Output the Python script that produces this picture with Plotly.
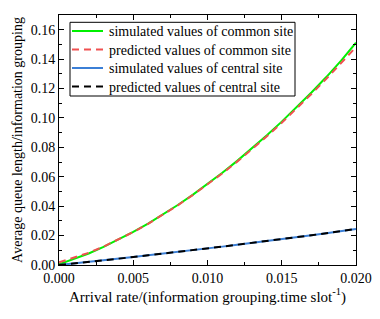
import plotly.graph_objects as go

x = [0.000, 0.001, 0.002, 0.003, 0.004, 0.005, 0.006, 0.007, 0.008, 0.009, 0.010,
     0.011, 0.012, 0.013, 0.014, 0.015, 0.016, 0.017, 0.018, 0.019, 0.020]
sim_common = [0.0005, 0.0040, 0.0078, 0.0123, 0.0172, 0.0225, 0.0282, 0.0343, 0.0408, 0.0477, 0.0550,
              0.0627, 0.0708, 0.0793, 0.0882, 0.0975, 0.1072, 0.1173, 0.1278, 0.1390, 0.1512]
pred_common = [0.0018, 0.0048, 0.0083, 0.0125, 0.0172, 0.0224, 0.0280, 0.0341, 0.0406, 0.0475, 0.0547,
               0.0623, 0.0703, 0.0787, 0.0875, 0.0967, 0.1063, 0.1163, 0.1266, 0.1372, 0.1482]
sim_central = [0.0000, 0.0010, 0.0021, 0.0032, 0.0043, 0.0054, 0.0066, 0.0077, 0.0089, 0.0101, 0.0113,
               0.0125, 0.0138, 0.0150, 0.0163, 0.0176, 0.0189, 0.0202, 0.0216, 0.0230, 0.0245]
pred_central = sim_central[:]

names = ["simulated values of common site", "predicted values of common site",
         "simulated values of central site", "predicted values of central site"]
series = [sim_common, pred_common, sim_central, pred_central]
colors = ["#00f000", "#f05050", "#3b7fd6", "#000000"]
dashes = ["solid", "7px,5px", "solid", "7px,5px"]

font = "Liberation Serif"

fig = go.Figure()
for nm, ys, c, d in zip(names, series, colors, dashes):
    fig.add_trace(go.Scatter(x=x, y=ys, mode="lines", name=nm, showlegend=False,
                             line=dict(color=c, width=2, dash=d)))

axis_common = dict(showline=True, linecolor="black", linewidth=1, mirror="ticks",
                   ticks="inside", ticklen=5, tickcolor="black", showgrid=False, zeroline=False,
                   tickfont=dict(family=font, size=14, color="black"))

fig.update_xaxes(range=[0, 0.02], dtick=0.005, tickformat=".3f",
                 minor=dict(dtick=0.0025, ticks="inside", ticklen=3, tickcolor="black"),
                 title=dict(text="Arrival rate/(information grouping.time slot<sup>-1</sup>)",
                            font=dict(family=font, size=15, color="black"), standoff=6),
                 **axis_common)
fig.update_yaxes(range=[0, 0.17], dtick=0.02, tickformat=".2f",
                 minor=dict(dtick=0.01, ticks="inside", ticklen=3, tickcolor="black"),
                 title=dict(text="Average queue length/information grouping",
                            font=dict(family=font, size=14, color="black"), standoff=4),
                 **axis_common)

# Legend drawn in plot-domain coordinates (box, line samples, labels)
PL, PR, PT, PB = 59, 356, 15, 265
def dx(px):
    return (px - PL) / (PR - PL)
def dy(py):
    return (PB - py) / (PB - PT)

fig.add_shape(type="rect", xref="x domain", yref="y domain",
              x0=dx(70), x1=dx(295), y0=dy(96), y1=dy(22.3),
              line=dict(color="black", width=1), fillcolor="white", layer="above")
row_y = [31, 49.5, 68, 86.5]
for nm, c, d, ry in zip(names, colors, dashes, row_y):
    fig.add_shape(type="line", xref="x domain", yref="y domain",
                  x0=dx(72), x1=dx(103), y0=dy(ry), y1=dy(ry),
                  line=dict(color=c, width=2, dash=d), layer="above")
    fig.add_annotation(xref="x domain", yref="y domain", x=dx(107), y=dy(ry + 1),
                       xanchor="left", yanchor="middle", showarrow=False, text=nm,
                       font=dict(family=font, size=14, color="black"))

fig.update_layout(
    width=372, height=311,
    margin=dict(l=51, r=24, t=7, b=54),
    paper_bgcolor="white", plot_bgcolor="white",
    font=dict(family=font, size=14, color="black"),
    showlegend=False,
)

fig.write_html("out.html")
